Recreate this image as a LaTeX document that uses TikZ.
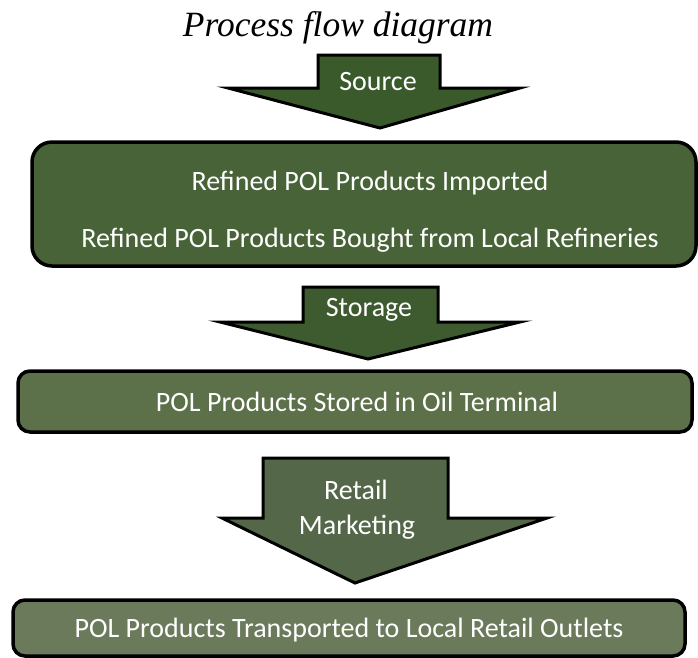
\documentclass[tikz,border=0pt]{standalone}
\usepackage{fontspec}
\setmainfont{Carlito}
\newfontfamily\titlefont{Liberation Serif}
\definecolor{boxA}{HTML}{486337}
\definecolor{boxB}{HTML}{5C7049}
\definecolor{boxC}{HTML}{6A7A5A}
\definecolor{arrA}{HTML}{3A5A2C}
\definecolor{arrB}{HTML}{3D5B2F}
\definecolor{arrC}{HTML}{546849}
\tikzset{
  stagebox/.style={draw=black, line width=3.5pt, inner sep=0pt},
  blockarrow/.style={draw=black, line width=3pt, line join=miter},
  lbl/.style={text=white, font=\fontsize{28}{32}\selectfont, inner sep=0pt, anchor=center},
}
\begin{document}
\begin{tikzpicture}[x=1pt,y=-1pt]
\useasboundingbox (0,0) rectangle (698,657);
\fill[white] (0,0) rectangle (698,657);
% title
\node[font=\titlefont\itshape\fontsize{35.5}{40}\selectfont, anchor=base] (title) at (338,36) {Process flow diagram};
% source arrow
\draw[blockarrow, fill=arrA] (318,55) -- (440,55) -- (440,88) -- (520,88) -- (380,128) -- (228,88) -- (318,88) -- cycle;
\node[lbl] (source) at (378,82) {Source};
% box 1
\draw[stagebox, fill=boxA, rounded corners=20pt] (32,142) rectangle (696,266);
\node[lbl] (l1a) at (370,183) {Refined POL Products Imported};
\node[lbl] (l1b) at (370,240) {Refined POL Products Bought from Local Refineries};
% storage arrow
\draw[blockarrow, fill=arrB] (303,287) -- (438,287) -- (438,322) -- (520,322) -- (368,359) -- (220,322) -- (303,322) -- cycle;
\node[lbl] (storage) at (369,310) {Storage};
% box 2
\draw[stagebox, fill=boxB, rounded corners=12pt] (18,371) rectangle (692,432);
\node[lbl] (l2) at (357,402) {POL Products Stored in Oil Terminal};
% retail arrow
\draw[blockarrow, fill=arrC] (263,458) -- (448,458) -- (448,518) -- (547,518) -- (355,583) -- (222,518) -- (263,518) -- cycle;
\node[lbl] (retail) at (356,490) {Retail};
\node[lbl] (marketing) at (357,527) {Marketing};
% box 3
\draw[stagebox, fill=boxC, rounded corners=12pt] (13,600) rectangle (685,656);
\node[lbl] (l3) at (349,630) {POL Products Transported to Local Retail Outlets};
\end{tikzpicture}
\end{document}
